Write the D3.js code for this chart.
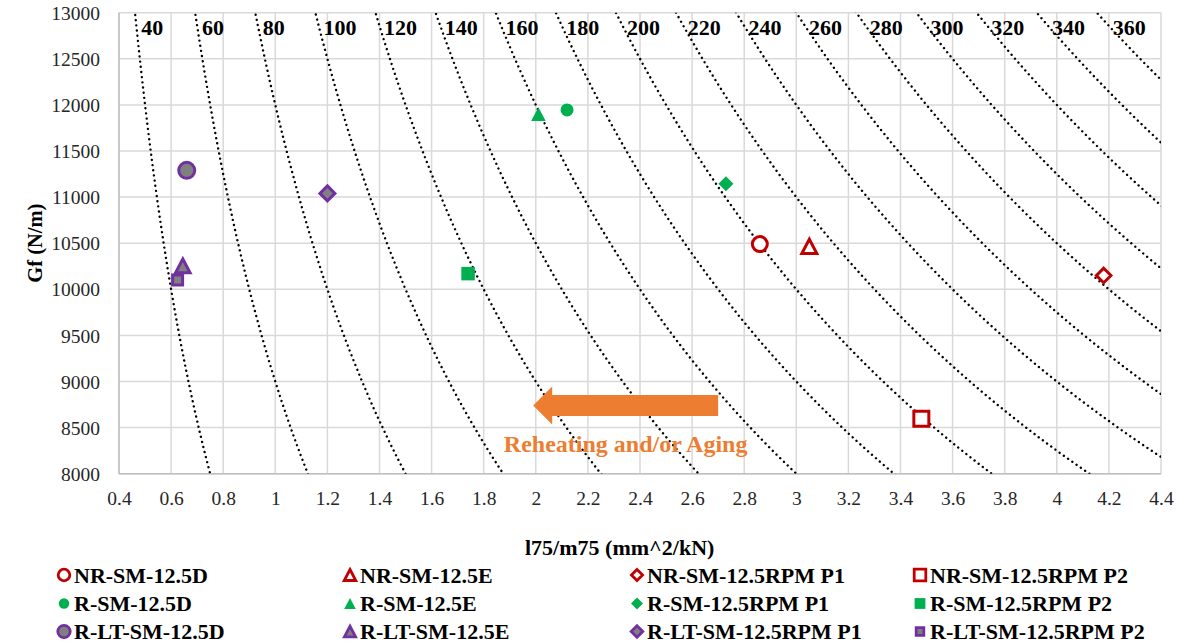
<!DOCTYPE html>
<html>
<head>
<meta charset="utf-8">
<script src="https://cdn.jsdelivr.net/npm/d3@7"></script>
<style>
  html, body { margin: 0; padding: 0; background: #fff; }
  svg { display: block; }
  svg text { font-family: "Liberation Serif", "Times New Roman", serif; }
</style>
</head>
<body>
<svg id="chart" width="1177" height="644"></svg>
<script>
// Mixture results: Gf versus l75/m75
const seriesNames = [
  "NR-SM-12.5D", "NR-SM-12.5E", "NR-SM-12.5RPM P1", "NR-SM-12.5RPM P2",
  "R-SM-12.5D", "R-SM-12.5E", "R-SM-12.5RPM P1", "R-SM-12.5RPM P2",
  "R-LT-SM-12.5D", "R-LT-SM-12.5E", "R-LT-SM-12.5RPM P1", "R-LT-SM-12.5RPM P2"
];
const l75m75 = [2.86, 3.05, 4.18, 3.48, 2.12, 2.01, 2.73, 1.74, 0.66, 0.645, 1.2, 0.625];
const gf = [10490, 10465, 10150, 8595, 11945, 11900, 11145, 10170, 11290, 10255, 11040, 10100];

// CT-index iso-lines: Gf * (l75/m75) = CT * 150
const ctLevels = [40, 60, 80, 100, 120, 140, 160, 180, 200, 220, 240, 260, 280, 300, 320, 340, 360];
const ctFactor = 150;

const xTickValues = [0.4, 0.6, 0.8, 1, 1.2, 1.4, 1.6, 1.8, 2, 2.2, 2.4, 2.6, 2.8, 3, 3.2, 3.4, 3.6, 3.8, 4, 4.2, 4.4];
const yTickValues = [8000, 8500, 9000, 9500, 10000, 10500, 11000, 11500, 12000, 12500, 13000];

// Annotation arrow (data units)
const arrowFrom = 2.7, arrowTo = 1.99, arrowGf = 8740;
const arrowText = "Reheating and/or Aging";

// Marker styling
const RED = "#C00000", GREEN = "#00B050", PURPLE = "#7030A0", GREY = "#808080";
const shapes = ["circle", "triangle", "diamond", "square"];
const groupStyle = [
  { fill: "#ffffff", stroke: RED, sw: 3, sizes: [18, 18, 17.5, 18] },
  { fill: GREEN, stroke: "none", sw: 0, sizes: [13, 14.5, 15, 13.5] },
  { fill: GREY, stroke: PURPLE, sw: 3, sizes: [19, 17.5, 18, 13] }
];

const FONT = "Liberation Serif, Times New Roman, serif";
const svg = d3.select("#chart");
const W = 1177, H = 644;
const plot = { left: 119, right: 1161, top: 12.7, bottom: 473.7 };

const x = d3.scaleLinear().domain([0.4, 4.4]).range([plot.left, plot.right]);
const y = d3.scaleLinear().domain([8000, 13000]).range([plot.bottom, plot.top]);

svg.append("rect").attr("width", W).attr("height", H).attr("fill", "#fff");

svg.append("defs").append("clipPath").attr("id", "plotClip")
  .append("rect")
  .attr("x", plot.left).attr("y", plot.top)
  .attr("width", plot.right - plot.left).attr("height", plot.bottom - plot.top);

// Gridlines
const grid = svg.append("g");
grid.selectAll("line.v").data(xTickValues).join("line")
  .attr("x1", d => x(d)).attr("x2", d => x(d))
  .attr("y1", plot.top).attr("y2", plot.bottom)
  .attr("stroke", "#d9d9d9").attr("stroke-width", 1.5);
grid.selectAll("line.h").data(yTickValues).join("line")
  .attr("x1", plot.left).attr("x2", plot.right)
  .attr("y1", d => y(d)).attr("y2", d => y(d))
  .attr("stroke", "#d9d9d9").attr("stroke-width", 1.5);

// Axis lines
svg.append("line").attr("x1", plot.left).attr("x2", plot.left)
  .attr("y1", plot.top).attr("y2", plot.bottom)
  .attr("stroke", "#bfbfbf").attr("stroke-width", 1.5);
svg.append("line").attr("x1", plot.left).attr("x2", plot.right)
  .attr("y1", plot.bottom).attr("y2", plot.bottom)
  .attr("stroke", "#bfbfbf").attr("stroke-width", 1.5);

// Axes (labels only)
const xAxis = d3.axisBottom(x).tickValues(xTickValues).tickSize(0).tickPadding(0)
  .tickFormat(d => String(+d.toFixed(1)));
const gx = svg.append("g").attr("transform", `translate(0,${plot.bottom})`).call(xAxis)
  .attr("font-family", FONT).attr("font-size", 19.5);
gx.select(".domain").remove();
gx.selectAll("text").attr("dy", "0.34em").attr("y", 25).attr("fill", "#262626");

const yAxis = d3.axisLeft(y).tickValues(yTickValues).tickSize(0).tickPadding(0)
  .tickFormat(d => String(d));
const gy = svg.append("g").attr("transform", `translate(${plot.left},0)`).call(yAxis)
  .attr("font-family", FONT).attr("font-size", 19.5);
gy.select(".domain").remove();
gy.selectAll("text").attr("x", -19).attr("dy", "0.34em").attr("fill", "#262626");

// Keep the tick labels at their intended width (about 49px for "13000")
const widest = d3.max(gy.selectAll("text").nodes(), n => n.getComputedTextLength());
if (widest && Math.abs(widest - 49) > 3) {
  const fs = 19.5 * 49 / widest;
  gx.attr("font-size", fs);
  gy.attr("font-size", fs);
}

// Axis titles
svg.append("text").attr("x", 525).attr("y", 547).attr("dy", "0.35em")
  .attr("font-size", 22).attr("font-weight", "bold").attr("fill", "#000")
  .text("l75/m75 (mm^2/kN)");
svg.append("text")
  .attr("transform", `translate(42,${(plot.top + plot.bottom) / 2}) rotate(-90)`)
  .attr("text-anchor", "middle")
  .attr("font-size", 20.5).attr("font-weight", "bold").attr("fill", "#000")
  .text("Gf (N/m)");

// Iso-CT curves
const curveLayer = svg.append("g").attr("clip-path", "url(#plotClip)");
const line = d3.line().x(d => x(d[0])).y(d => y(d[1])).curve(d3.curveLinear);
ctLevels.forEach(ct => {
  const k = ct * ctFactor;
  const x0 = k / 13200, x1 = Math.min(4.45, k / 7900);
  const n = 120;
  const pts = d3.range(n + 1).map(i => {
    const xv = x0 + (x1 - x0) * i / n;
    return [xv, k / xv];
  });
  curveLayer.append("path").datum(pts).attr("d", line)
    .attr("fill", "none").attr("stroke", "#000").attr("stroke-width", 2.4)
    .attr("stroke-linecap", "round").attr("stroke-dasharray", "0.01 5.2");
});

// Curve labels along the top
svg.append("g").selectAll("text").data(ctLevels).join("text")
  .attr("x", ct => x(ct * ctFactor / 13000) + 5 + ct * 0.03)
  .attr("y", 27).attr("dy", "0.35em")
  .attr("font-size", 22).attr("font-weight", "bold").attr("fill", "#000")
  .text(ct => ct);

// Orange arrow annotation
const ax0 = x(arrowFrom), ax1 = x(arrowTo), ay = y(arrowGf);
const bodyHalf = 10.5, headHalf = 19, headLen = 19;
svg.append("path")
  .attr("d", d3.line()([
    [ax0, ay - bodyHalf], [ax1 + headLen, ay - bodyHalf], [ax1 + headLen, ay - headHalf],
    [ax1, ay], [ax1 + headLen, ay + headHalf], [ax1 + headLen, ay + bodyHalf], [ax0, ay + bodyHalf]
  ]) + "Z")
  .attr("fill", "#ED7D31");
svg.append("text")
  .attr("x", x((arrowFrom + arrowTo) / 2)).attr("y", 452)
  .attr("text-anchor", "middle")
  .attr("font-size", 24).attr("font-weight", "bold").attr("fill", "#ED7D31")
  .text(arrowText);

// Marker path generator: s = outer size in px
function markerPath(type, s, sw) {
  const a = (s - sw) / 2;
  if (type === "circle") {
    const p = d3.path(); p.arc(0, 0, a, 0, 2 * Math.PI); p.closePath(); return p.toString();
  }
  if (type === "square") return `M${-a},${-a}H${a}V${a}H${-a}Z`;
  if (type === "diamond") return `M0,${-a}L${a},0L0,${a}L${-a},0Z`;
  // triangle
  const h = a * 1.9;
  return `M0,${-h / 2}L${a},${h / 2}L${-a},${h / 2}Z`;
}

function styleOf(i) {
  const g = groupStyle[Math.floor(i / 4)];
  const shape = shapes[i % 4];
  return { g, shape, size: g.sizes[i % 4] };
}

// Data points
const pts = svg.append("g");
seriesNames.forEach((name, i) => {
  const { g, shape, size } = styleOf(i);
  const grp = pts.append("g").attr("transform", `translate(${x(l75m75[i])},${y(gf[i])})`);
  grp.append("path").attr("d", markerPath(shape, size, g.sw))
    .attr("fill", g.fill).attr("stroke", g.stroke).attr("stroke-width", g.sw)
    .attr("stroke-linejoin", "miter");
});

// Legend (3 rows x 4 columns)
const legCols = [64, 350, 637, 920];
const legRows = [575, 603.5, 631.5];
const leg = svg.append("g");
seriesNames.forEach((name, i) => {
  const { g, shape, size } = styleOf(i);
  const cx = legCols[i % 4], cy = legRows[Math.floor(i / 4)];
  const s = Math.max(10, size * 0.8);
  const sw = g.sw ? 2.8 : 0;
  leg.append("path").attr("transform", `translate(${cx},${cy})`)
    .attr("d", markerPath(shape, s, sw))
    .attr("fill", g.fill).attr("stroke", g.stroke).attr("stroke-width", sw);
  leg.append("text").attr("x", cx + 10).attr("y", cy).attr("dy", "0.35em")
    .attr("font-size", 22).attr("font-weight", "bold").attr("fill", "#000")
    .text(name);
});
</script>
</body>
</html>
